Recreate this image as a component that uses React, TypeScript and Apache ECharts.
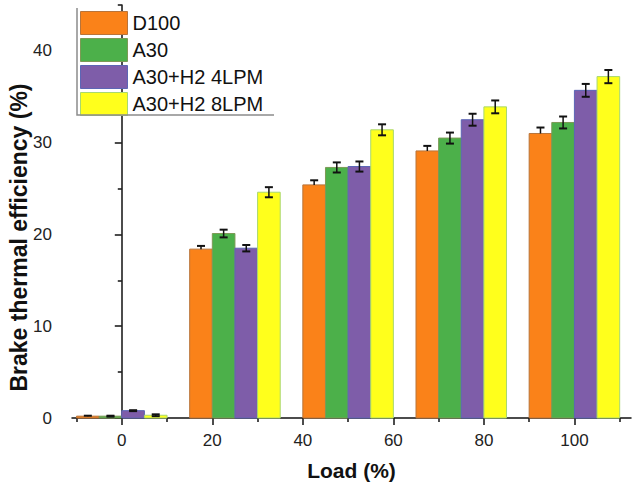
import React, { useEffect, useRef } from "react";
import * as echarts from "echarts";

// Engine load points (%) at which each group of bars is centred
const loads = [0, 25, 50, 75, 100];

// Brake thermal efficiency (%) per fuel
const d100 = [0.2, 18.4, 25.4, 29.1, 31.0];
const a30 = [0.2, 20.1, 27.3, 30.5, 32.2];
const a30h2_4 = [0.8, 18.5, 27.4, 32.5, 35.7];
const a30h2_8 = [0.3, 24.6, 31.4, 33.9, 37.2];

// Standard deviations for the error bars
const d100Err = [0.05, 0.35, 0.5, 0.55, 0.65];
const a30Err = [0.05, 0.42, 0.55, 0.6, 0.65];
const a30h2_4Err = [0.05, 0.35, 0.55, 0.65, 0.7];
const a30h2_8Err = [0.1, 0.55, 0.6, 0.7, 0.72];

const seriesNames = ["D100", "A30", "A30+H2 4LPM", "A30+H2 8LPM"];

// Axis tick labels
const xTickLabels = [0, 20, 40, 60, 80, 100];
const xMinorTicks = [-10, 10, 30, 50, 70, 90, 110];
const yTickLabels = [0, 10, 20, 30, 40];
const yMinorTicks = [5, 15, 25, 35, 45];

const fills = ["#FA8219", "#4CB04A", "#7E5DA9", "#FFFF1C"];
const borders = ["#B8743A", "#7C9A55", "#5C66B5", "#A9D86E"];

const BAR_SPAN = 5; // each bar covers 5 load units; a group covers 20
const FONT = "Liberation Sans, Arial, sans-serif";

export default function App() {
  const ref = useRef<HTMLDivElement>(null);

  useEffect(() => {
    document.body.style.margin = "0";
    if (!ref.current) return;
    const chart = echarts.init(ref.current, undefined, { renderer: "svg" });

    const values = [d100, a30, a30h2_4, a30h2_8];
    const errors = [d100Err, a30Err, a30h2_4Err, a30h2_8Err];

    const series = values.map((vals, s) => ({
      type: "custom",
      name: seriesNames[s],
      xAxisIndex: 0,
      yAxisIndex: 0,
      itemStyle: { color: fills[s], borderColor: borders[s], borderWidth: 1 },
      data: loads.map((ld, i) => [ld, vals[i], errors[s][i], s === 0 ? 1 : 0]),
      renderItem: (params: any, api: any) => {
        const load = api.value(0);
        const v = api.value(1);
        const err = api.value(2);
        const plusOnly = api.value(3) === 1;
        const x0 = load + (s - 2) * BAR_SPAN;
        const x1 = x0 + BAR_SPAN;
        const pTop = api.coord([x0, v]);
        const pBase = api.coord([x1, 0]);
        const cx = (pTop[0] + pBase[0]) / 2;
        const yHi = api.coord([load, v + err])[1];
        const yLo = plusOnly ? pTop[1] : api.coord([load, v - err])[1];
        const cap = 4;
        const children: any[] = [
          {
            type: "rect",
            shape: {
              x: pTop[0],
              y: pTop[1],
              width: pBase[0] - pTop[0],
              height: pBase[1] - pTop[1],
            },
            style: { fill: fills[s], stroke: borders[s], lineWidth: 1 },
          },
          {
            type: "line",
            shape: { x1: cx, y1: yHi, x2: cx, y2: yLo },
            style: { stroke: "#111", lineWidth: 1.5 },
          },
          {
            type: "line",
            shape: { x1: cx - cap, y1: yHi, x2: cx + cap, y2: yHi },
            style: { stroke: "#111", lineWidth: 2 },
          },
        ];
        if (!plusOnly) {
          children.push({
            type: "line",
            shape: { x1: cx - cap, y1: yLo, x2: cx + cap, y2: yLo },
            style: { stroke: "#111", lineWidth: 2 },
          });
        }
        return { type: "group", children };
      },
    }));

    const axisLine = { show: true, lineStyle: { color: "#111", width: 1.5 } };

    chart.setOption({
      animation: false,
      textStyle: { fontFamily: FONT },
      grid: { left: 72, top: 5, width: 559, height: 413, outerBoundsMode: "none", containLabel: false },
      legend: {
        orient: "vertical",
        left: 80,
        top: 11,
        padding: 0,
        itemWidth: 47,
        itemHeight: 23,
        itemGap: 3,
        icon: "rect",
        textStyle: { fontSize: 20, color: "#111", fontFamily: FONT, lineHeight: 23 },
        data: seriesNames.map((n, s) => ({
          name: n,
          itemStyle: { color: fills[s], borderColor: borders[s], borderWidth: 1 },
        })),
      },
      graphic: [
        {
          type: "polyline",
          shape: { points: [[77, 8], [77, 115], [274, 115]] },
          style: { stroke: "#8c8c8c", lineWidth: 1.5, fill: "none" },
          z: 100,
        },
      ],
      xAxis: [
        {
          type: "value",
          min: -11,
          max: 112.5,
          name: "Load (%)",
          nameLocation: "middle",
          nameGap: 42,
          nameMoveOverlap: false,
          nameTextStyle: { fontSize: 21, fontWeight: "bold", color: "#111", fontFamily: FONT },
          axisLine,
          axisTick: { show: true, length: 7, customValues: xTickLabels, lineStyle: { color: "#111", width: 1.5 } },
          axisLabel: { customValues: xTickLabels, fontSize: 17, color: "#222", margin: 14, fontFamily: FONT },
          splitLine: { show: false },
        },
        {
          type: "value",
          min: -11,
          max: 112.5,
          position: "bottom",
          axisLine: { show: false },
          axisTick: { show: true, length: 4, customValues: xMinorTicks, lineStyle: { color: "#111", width: 1.5 } },
          axisLabel: { show: false },
          splitLine: { show: false },
        },
      ],
      yAxis: [
        {
          type: "value",
          min: 0,
          max: 45,
          name: "Brake thermal efficiency (%)",
          nameLocation: "middle",
          nameGap: 42,
          nameMoveOverlap: false,
          nameTextStyle: {
            fontSize: 23,
            fontWeight: "bold",
            color: "#111",
            fontFamily: FONT,
            padding: [0, 52, 0, 0],
          },
          axisLine,
          axisTick: { show: true, length: 7, customValues: yTickLabels, lineStyle: { color: "#111", width: 1.5 } },
          axisLabel: { customValues: yTickLabels, fontSize: 17, color: "#222", margin: 20, fontFamily: FONT },
          splitLine: { show: false },
        },
        {
          type: "value",
          min: 0,
          max: 45,
          position: "left",
          offset: 0,
          axisLine: { show: false },
          axisTick: { show: true, length: 4, customValues: yMinorTicks, lineStyle: { color: "#111", width: 1.5 } },
          axisLabel: { show: false },
          splitLine: { show: false },
        },
      ],
      series,
    });

    return () => chart.dispose();
  }, []);

  return <div ref={ref} style={{ width: 632, height: 494 }} />;
}
